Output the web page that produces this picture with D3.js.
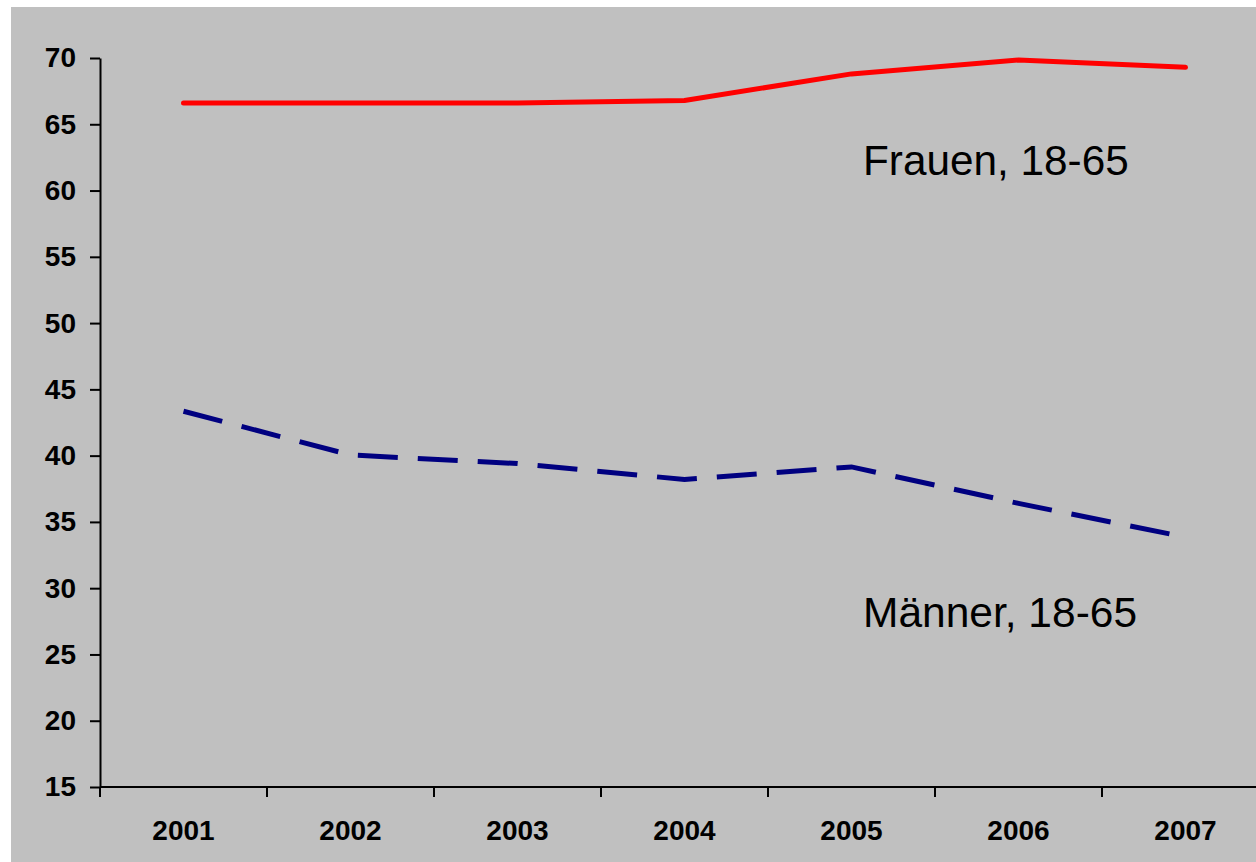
<!DOCTYPE html>
<html>
<head>
<meta charset="utf-8">
<script src="https://cdn.jsdelivr.net/npm/d3@7"></script>
<style>
  body { margin: 0; background: #fff; }
  svg { display: block; }
</style>
</head>
<body>
<div id="chart"></div>
<script>
// years on the x axis
const years = ["2001", "2002", "2003", "2004", "2005", "2006", "2007"];
// values
const frauen = [66.6, 66.6, 66.6, 66.8, 68.8, 69.85, 69.3];
const maenner = [43.35, 40.05, 39.4, 38.2, 39.15, 36.4, 33.85];
const yTicks = [15, 20, 25, 30, 35, 40, 45, 50, 55, 60, 65, 70];

const W = 1256, H = 862;
const margin = {top: 58, left: 100, bottom: 75};
const bandW = 167;

const svg = d3.select("#chart")
    .append("svg")
    .attr("width", W)
    .attr("height", H);

// gray plot area (small white edge top and left)
svg.append("rect")
    .attr("x", 11).attr("y", 7)
    .attr("width", W - 11).attr("height", H - 7)
    .attr("fill", "#c0c0c0");

const x = d3.scaleBand()
    .domain(years)
    .range([margin.left, margin.left + bandW * years.length]);

const y = d3.scaleLinear()
    .domain([15, 70])
    .range([787, margin.top]);

// y axis
const yAxis = svg.append("g")
    .attr("transform", `translate(${margin.left},0)`)
    .call(d3.axisLeft(y).tickValues(yTicks).tickSize(10).tickSizeOuter(0).tickPadding(14));
yAxis.select(".domain").attr("stroke", "#000").attr("stroke-width", 2);
yAxis.selectAll(".tick line").attr("stroke", "#000").attr("stroke-width", 2);
yAxis.selectAll(".tick text")
    .attr("font-family", "Liberation Sans, Arial, sans-serif")
    .attr("font-weight", "bold")
    .attr("font-size", 28)
    .attr("fill", "#000");

// x axis with ticks between categories
const xAxis = svg.append("g")
    .attr("transform", `translate(0,${y(15)})`);
xAxis.append("line")
    .attr("x1", margin.left).attr("x2", W)
    .attr("stroke", "#000").attr("stroke-width", 2);
xAxis.selectAll(".sep")
    .data(years)
    .enter()
    .append("line")
    .attr("x1", d => x(d)).attr("x2", d => x(d))
    .attr("y1", 0).attr("y2", 10)
    .attr("stroke", "#000").attr("stroke-width", 2);
xAxis.selectAll(".lbl")
    .data(years)
    .enter()
    .append("text")
    .attr("x", d => x(d) + x.bandwidth() / 2)
    .attr("y", 53)
    .attr("text-anchor", "middle")
    .attr("font-family", "Liberation Sans, Arial, sans-serif")
    .attr("font-weight", "bold")
    .attr("font-size", 28)
    .text(d => d);

const line = d3.line()
    .x((d, i) => x(years[i]) + x.bandwidth() / 2)
    .y(d => y(d));

svg.append("path")
    .datum(frauen)
    .attr("d", line)
    .attr("fill", "none")
    .attr("stroke", "#ff0000")
    .attr("stroke-width", 5)
    .attr("stroke-linecap", "round")
    .attr("stroke-linejoin", "round");

svg.append("path")
    .datum(maenner)
    .attr("d", line)
    .attr("fill", "none")
    .attr("stroke", "#000080")
    .attr("stroke-width", 5)
    .attr("stroke-dasharray", "40,20");

// series labels
svg.append("text")
    .attr("x", 863).attr("y", 175)
    .attr("font-family", "Liberation Sans, Arial, sans-serif")
    .attr("font-size", 42.3)
    .text("Frauen, 18-65");

svg.append("text")
    .attr("x", 863).attr("y", 627)
    .attr("font-family", "Liberation Sans, Arial, sans-serif")
    .attr("font-size", 42.5)
    .text("Männer, 18-65");
</script>
</body>
</html>
